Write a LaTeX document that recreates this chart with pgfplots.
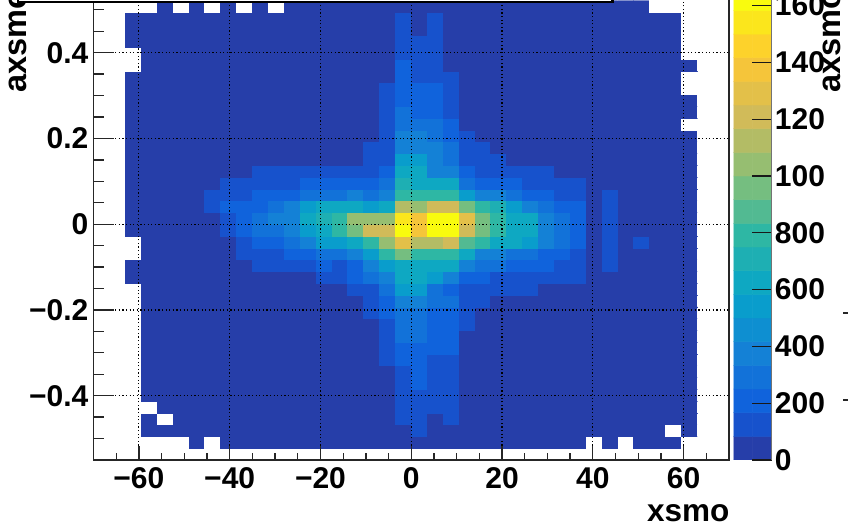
\documentclass[border=0pt]{standalone}
\usepackage{pgfplots}
\pgfplotsset{compat=1.18}
\usepackage{fontspec}
\setmainfont{Liberation Sans}
\newcommand\fz{\fontsize{30}{32}\selectfont\bfseries}
\newcommand\ft{\fontsize{32.5}{34}\selectfont\bfseries}
\newcommand\fx{\fontsize{31.5}{34}\selectfont\bfseries}
\pgfplotsset{
  colormap={birdw}{rgb255=(255,255,255) rgb255=(38,62,169) rgb255=(23,82,204) rgb255=(16,99,220) rgb255=(18,114,217) rgb255=(20,129,214) rgb255=(14,143,209) rgb255=(9,157,204) rgb255=(14,168,194) rgb255=(30,175,179) rgb255=(46,183,164) rgb255=(82,186,146) rgb255=(117,190,128) rgb255=(150,190,113) rgb255=(179,188,101) rgb255=(209,187,89) rgb255=(227,192,73) rgb255=(245,197,58) rgb255=(253,210,43) rgb255=(251,230,28) rgb255=(249,251,14)},
  colormap access=piecewise constant,
  point meta min=-83.33, point meta max=1666.67,
}
\begin{document}
\begin{tikzpicture}[x=1pt,y=1pt]
\useasboundingbox (0,0) rectangle (848,527);
\clip (0,0) rectangle (848,527);
\begin{axis}[
  at={(93.5pt,67pt)}, anchor=south west, scale only axis,
  width=635.5pt, height=471.6pt,
  xmin=-70, xmax=70, ymin=-0.55, ymax=0.55, y dir=normal,
  axis on top, grid=major,
  grid style={black, line width=1.2pt, dash pattern=on 1.2pt off 2.4pt},
  axis line style={line width=1.5pt, black!85},
  tick style={line width=1.3pt, black!85},
  tick align=inside, xtick pos=bottom, ytick pos=left,
  major tick length=14pt, minor tick length=7pt,
  xtick={-60,-40,-20,0,20,40,60},
  xticklabels={−60,−40,−20,0,20,40,60},
  minor xtick={-65,-55,-50,-45,-35,-30,-25,-15,-10,-5,5,10,15,25,30,35,45,50,55,65},
  ytick={-0.4,-0.2,0,0.2,0.4},
  yticklabels={−0.4,−0.2,0,0.2,0.4},
  tick label style={font=\fz, text=black},
  xticklabel style={inner sep=0pt, yshift=-7pt},
  yticklabel style={inner sep=0pt, xshift=-5pt},
]
\addplot[matrix plot*, shader=faceted, faceted color=mapped color, line width=0.45pt, mesh/cols=38, point meta=explicit]
table[row sep=crcr, header=false, meta index=0,
  x expr={-64.75+3.5*floor(mod(\coordindex+0.5,38))},
  y expr={-0.53625+0.0275*floor((\coordindex+0.5)/38)}] {
-1\\-1\\-1\\-1\\-1\\-1\\-1\\-1\\-1\\-1\\-1\\-1\\-1\\-1\\-1\\-1\\-1\\-1\\-1\\-1\\-1\\-1\\-1\\-1\\-1\\-1\\-1\\-1\\-1\\-1\\-1\\-1\\-1\\-1\\-1\\-1\\-1\\-1\\
-1\\-1\\-1\\-1\\-1\\40\\-1\\40\\40\\40\\40\\40\\40\\40\\40\\40\\40\\40\\40\\40\\40\\40\\40\\40\\40\\40\\40\\40\\40\\40\\-1\\40\\-1\\40\\40\\40\\-1\\-1\\
-1\\-1\\40\\40\\40\\40\\40\\40\\40\\40\\40\\40\\40\\40\\40\\40\\40\\40\\40\\125\\40\\40\\40\\40\\40\\40\\40\\40\\40\\40\\40\\40\\40\\40\\40\\-1\\40\\-1\\
-1\\-1\\40\\-1\\40\\40\\40\\40\\40\\40\\40\\40\\40\\40\\40\\40\\40\\40\\125\\125\\40\\125\\40\\40\\40\\40\\40\\40\\40\\40\\40\\40\\40\\40\\40\\40\\40\\-1\\
-1\\-1\\-1\\40\\40\\40\\40\\40\\40\\40\\40\\40\\40\\40\\40\\40\\40\\40\\125\\125\\125\\125\\40\\40\\40\\40\\40\\40\\40\\40\\40\\40\\40\\40\\40\\40\\40\\-1\\
-1\\-1\\40\\40\\40\\40\\40\\40\\40\\40\\40\\40\\40\\40\\40\\40\\40\\40\\125\\125\\125\\125\\40\\40\\40\\40\\40\\40\\40\\40\\40\\40\\40\\40\\40\\40\\40\\-1\\
-1\\-1\\40\\40\\40\\40\\40\\40\\40\\40\\40\\40\\40\\40\\40\\40\\40\\40\\125\\208\\125\\125\\40\\40\\40\\40\\40\\40\\40\\40\\40\\40\\40\\40\\40\\40\\40\\-1\\
-1\\-1\\40\\40\\40\\40\\40\\40\\40\\40\\40\\40\\40\\40\\40\\40\\40\\40\\125\\208\\125\\125\\40\\40\\40\\40\\40\\40\\40\\40\\40\\40\\40\\40\\40\\40\\40\\-1\\
-1\\-1\\40\\40\\40\\40\\40\\40\\40\\40\\40\\40\\40\\40\\40\\40\\40\\125\\208\\208\\125\\125\\40\\40\\40\\40\\40\\40\\40\\40\\40\\40\\40\\40\\40\\40\\40\\-1\\
-1\\-1\\40\\40\\40\\40\\40\\40\\40\\40\\40\\40\\40\\40\\40\\40\\40\\125\\208\\208\\208\\208\\40\\40\\40\\40\\40\\40\\40\\40\\40\\40\\40\\40\\40\\40\\40\\-1\\
-1\\-1\\40\\40\\40\\40\\40\\40\\40\\40\\40\\40\\40\\40\\40\\40\\40\\125\\292\\292\\208\\208\\40\\40\\40\\40\\40\\40\\40\\40\\40\\40\\40\\40\\40\\40\\40\\-1\\
-1\\-1\\40\\40\\40\\40\\40\\40\\40\\40\\40\\40\\40\\40\\40\\40\\40\\125\\292\\292\\208\\208\\125\\40\\40\\40\\40\\40\\40\\40\\40\\40\\40\\40\\40\\40\\40\\-1\\
-1\\-1\\40\\40\\40\\40\\40\\40\\40\\40\\40\\40\\40\\40\\40\\40\\125\\208\\292\\292\\208\\208\\125\\40\\40\\40\\40\\40\\40\\40\\40\\40\\40\\40\\40\\40\\40\\-1\\
-1\\-1\\40\\40\\40\\40\\40\\40\\40\\40\\40\\40\\40\\40\\40\\40\\125\\208\\375\\375\\292\\292\\125\\125\\40\\40\\40\\40\\40\\40\\40\\40\\40\\40\\40\\40\\40\\-1\\
-1\\-1\\40\\40\\40\\40\\40\\40\\40\\40\\40\\40\\40\\40\\40\\125\\125\\292\\542\\542\\292\\208\\125\\125\\125\\125\\125\\40\\40\\40\\40\\40\\40\\40\\40\\40\\40\\-1\\
-1\\40\\40\\40\\40\\40\\40\\40\\40\\40\\40\\40\\40\\125\\125\\208\\292\\375\\625\\625\\542\\375\\208\\208\\125\\125\\125\\125\\125\\125\\40\\40\\40\\40\\40\\40\\40\\-1\\
-1\\40\\40\\40\\40\\40\\40\\40\\40\\125\\125\\125\\125\\208\\125\\208\\375\\542\\625\\625\\625\\625\\375\\292\\292\\208\\208\\208\\125\\125\\40\\125\\40\\40\\40\\40\\40\\-1\\
-1\\-1\\40\\40\\40\\40\\40\\40\\125\\125\\125\\208\\208\\292\\292\\375\\542\\792\\958\\792\\792\\792\\625\\375\\375\\292\\292\\208\\208\\125\\40\\125\\40\\40\\40\\40\\40\\-1\\
-1\\-1\\40\\40\\40\\40\\40\\40\\125\\208\\208\\292\\375\\542\\542\\625\\792\\1042\\1292\\1125\\1125\\1208\\875\\792\\625\\625\\542\\375\\292\\208\\40\\125\\40\\125\\40\\40\\40\\-1\\
-1\\40\\40\\40\\40\\40\\40\\125\\208\\292\\292\\375\\542\\625\\792\\958\\1208\\1208\\1625\\1375\\1625\\1625\\1208\\958\\792\\625\\625\\375\\292\\208\\40\\125\\40\\40\\40\\40\\40\\-1\\
-1\\40\\40\\40\\40\\40\\40\\125\\208\\292\\375\\375\\625\\708\\792\\1042\\1042\\1042\\1542\\1375\\1625\\1625\\1292\\958\\792\\625\\625\\375\\292\\208\\40\\125\\40\\40\\40\\40\\40\\-1\\
-1\\40\\40\\40\\40\\40\\125\\208\\208\\208\\292\\375\\542\\625\\625\\625\\542\\625\\1125\\1042\\1208\\1208\\958\\792\\708\\542\\375\\292\\208\\208\\40\\125\\40\\40\\40\\40\\40\\-1\\
-1\\40\\40\\40\\40\\40\\125\\125\\125\\208\\208\\208\\292\\292\\292\\375\\292\\375\\792\\792\\792\\792\\542\\375\\375\\292\\208\\208\\125\\125\\40\\125\\40\\40\\40\\40\\40\\-1\\
-1\\40\\40\\40\\40\\40\\40\\125\\125\\125\\125\\125\\208\\208\\208\\208\\208\\292\\708\\625\\625\\625\\292\\208\\208\\208\\125\\125\\125\\125\\40\\40\\40\\40\\40\\40\\40\\-1\\
-1\\40\\40\\40\\40\\40\\40\\40\\40\\125\\125\\125\\125\\125\\125\\125\\125\\208\\625\\625\\375\\375\\208\\125\\125\\125\\125\\125\\40\\40\\40\\40\\40\\40\\40\\40\\40\\-1\\
-1\\40\\40\\40\\40\\40\\40\\40\\40\\40\\40\\40\\40\\40\\40\\40\\125\\125\\542\\542\\375\\292\\125\\125\\125\\40\\40\\40\\40\\40\\40\\40\\40\\40\\40\\40\\40\\-1\\
-1\\40\\40\\40\\40\\40\\40\\40\\40\\40\\40\\40\\40\\40\\40\\40\\125\\125\\375\\375\\375\\292\\125\\125\\40\\40\\40\\40\\40\\40\\40\\40\\40\\40\\40\\40\\40\\-1\\
-1\\40\\40\\40\\40\\40\\40\\40\\40\\40\\40\\40\\40\\40\\40\\40\\40\\125\\375\\375\\292\\208\\125\\40\\40\\40\\40\\40\\40\\40\\40\\40\\40\\40\\40\\40\\40\\-1\\
-1\\40\\40\\40\\40\\40\\40\\40\\40\\40\\40\\40\\40\\40\\40\\40\\40\\125\\292\\292\\292\\208\\40\\40\\40\\40\\40\\40\\40\\40\\40\\40\\40\\40\\40\\40\\-1\\-1\\
-1\\40\\40\\40\\40\\40\\40\\40\\40\\40\\40\\40\\40\\40\\40\\40\\40\\125\\292\\208\\208\\125\\40\\40\\40\\40\\40\\40\\40\\40\\40\\40\\40\\40\\40\\40\\40\\-1\\
-1\\40\\40\\40\\40\\40\\40\\40\\40\\40\\40\\40\\40\\40\\40\\40\\40\\125\\208\\208\\208\\125\\40\\40\\40\\40\\40\\40\\40\\40\\40\\40\\40\\40\\40\\40\\40\\-1\\
-1\\40\\40\\40\\40\\40\\40\\40\\40\\40\\40\\40\\40\\40\\40\\40\\40\\125\\208\\208\\208\\125\\40\\40\\40\\40\\40\\40\\40\\40\\40\\40\\40\\40\\40\\40\\-1\\-1\\
-1\\40\\40\\40\\40\\40\\40\\40\\40\\40\\40\\40\\40\\40\\40\\40\\40\\40\\208\\125\\125\\125\\40\\40\\40\\40\\40\\40\\40\\40\\40\\40\\40\\40\\40\\40\\-1\\-1\\
-1\\-1\\40\\40\\40\\40\\40\\40\\40\\40\\40\\40\\40\\40\\40\\40\\40\\40\\208\\125\\125\\40\\40\\40\\40\\40\\40\\40\\40\\40\\40\\40\\40\\40\\40\\40\\40\\-1\\
-1\\-1\\40\\40\\40\\40\\40\\40\\40\\40\\40\\40\\40\\40\\40\\40\\40\\40\\125\\125\\125\\40\\40\\40\\40\\40\\40\\40\\40\\40\\40\\40\\40\\40\\40\\40\\-1\\-1\\
-1\\40\\40\\40\\40\\40\\40\\40\\40\\40\\40\\40\\40\\40\\40\\40\\40\\40\\125\\125\\125\\40\\40\\40\\40\\40\\40\\40\\40\\40\\40\\40\\40\\40\\40\\40\\-1\\-1\\
-1\\40\\40\\40\\40\\40\\40\\40\\40\\40\\40\\40\\40\\40\\40\\40\\40\\40\\125\\40\\125\\40\\40\\40\\40\\40\\40\\40\\40\\40\\40\\40\\40\\40\\40\\40\\-1\\-1\\
-1\\40\\40\\40\\40\\40\\40\\40\\40\\40\\40\\40\\40\\40\\40\\40\\40\\40\\125\\40\\125\\40\\40\\40\\40\\40\\40\\40\\40\\40\\40\\40\\40\\40\\40\\40\\-1\\-1\\
-1\\-1\\-1\\40\\-1\\40\\-1\\40\\-1\\40\\-1\\40\\40\\40\\40\\40\\40\\40\\40\\40\\40\\40\\40\\40\\40\\40\\40\\40\\40\\40\\40\\40\\40\\40\\-1\\-1\\-1\\-1\\
-1\\-1\\-1\\-1\\-1\\-1\\-1\\-1\\-1\\-1\\-1\\-1\\-1\\-1\\-1\\-1\\-1\\-1\\-1\\-1\\-1\\-1\\-1\\-1\\-1\\-1\\-1\\-1\\-1\\-1\\-1\\-1\\-1\\-1\\-1\\-1\\-1\\-1\\
};
\end{axis}
% y ticks are longer than the x ticks
\begin{axis}[
  at={(93.5pt,67pt)}, anchor=south west, scale only axis,
  width=635.5pt, height=471.6pt,
  xmin=-70, xmax=70, ymin=-0.55, ymax=0.55,
  axis y line*=left, axis x line=none,
  axis line style={line width=1.5pt, black!85, -},
  tick style={line width=1.3pt, black!85},
  tick align=inside, major tick length=20pt, minor tick length=10pt,
  ytick={-0.4,-0.2,0,0.2,0.4}, yticklabels={},
  minor ytick={-0.5,-0.45,-0.35,-0.3,-0.25,-0.15,-0.1,-0.05,0.05,0.1,0.15,0.25,0.3,0.35,0.45,0.5},
]
\addplot[draw=none] coordinates {(0,0)};
\end{axis}
% palette
\begin{axis}[
  at={(733.5pt,67pt)}, anchor=south west, scale only axis,
  width=38.2pt, height=473.3pt,
  xmin=0, xmax=1, ymin=0, ymax=1666.67, y dir=normal,
  axis x line=none, axis y line*=right,
  axis on top,
  axis line style={line width=1.2pt, black!55, -},
  tick style={line width=1.2pt, black!90},
  tick align=inside, major tick length=20pt,
  ytick={0,200,400,600,800,1000,1200,1400,1600},
  yticklabels={0,200,400,600,800,100,120,140,160},
  tick label style={font=\fz, text=black},
  yticklabel style={anchor=west, inner sep=0pt, xshift=3pt},
]
\addplot[matrix plot*, shader=faceted, faceted color=mapped color, line width=0.45pt, mesh/cols=2, point meta=explicit]
table[row sep=crcr, meta index=2, x index=0, y index=1, header=false] {
.25 41.67 41.67\\.75 41.67 41.67\\
.25 125 125\\.75 125 125\\
.25 208.33 208.33\\.75 208.33 208.33\\
.25 291.67 291.67\\.75 291.67 291.67\\
.25 375 375\\.75 375 375\\
.25 458.33 458.33\\.75 458.33 458.33\\
.25 541.67 541.67\\.75 541.67 541.67\\
.25 625 625\\.75 625 625\\
.25 708.33 708.33\\.75 708.33 708.33\\
.25 791.67 791.67\\.75 791.67 791.67\\
.25 875 875\\.75 875 875\\
.25 958.33 958.33\\.75 958.33 958.33\\
.25 1041.67 1041.67\\.75 1041.67 1041.67\\
.25 1125 1125\\.75 1125 1125\\
.25 1208.33 1208.33\\.75 1208.33 1208.33\\
.25 1291.67 1291.67\\.75 1291.67 1291.67\\
.25 1375 1375\\.75 1375 1375\\
.25 1458.33 1458.33\\.75 1458.33 1458.33\\
.25 1541.67 1541.67\\.75 1541.67 1541.67\\
.25 1625 1625\\.75 1625 1625\\
};
\end{axis}
\node[anchor=base east, inner sep=0pt, font=\fx] at (729.5,5.3) {xsmo};
\node[anchor=base west, rotate=90, inner sep=0pt, font=\ft] at (26.5,434.5) {axsmo};
\node[anchor=base west, rotate=90, inner sep=0pt, font=\ft] at (840,434.5) {axsmo};
\fill[white] (18,523.7) rectangle (612,528);
\draw[black, line width=2.4pt] (18,530) -- (18,525) -- (612.5,525) -- (612.5,530);
\draw[black!85, line width=1.2pt] (843,214) -- (848,214);
\draw[black!85, line width=1.2pt] (843,127) -- (848,127);
\end{tikzpicture}
\end{document}
